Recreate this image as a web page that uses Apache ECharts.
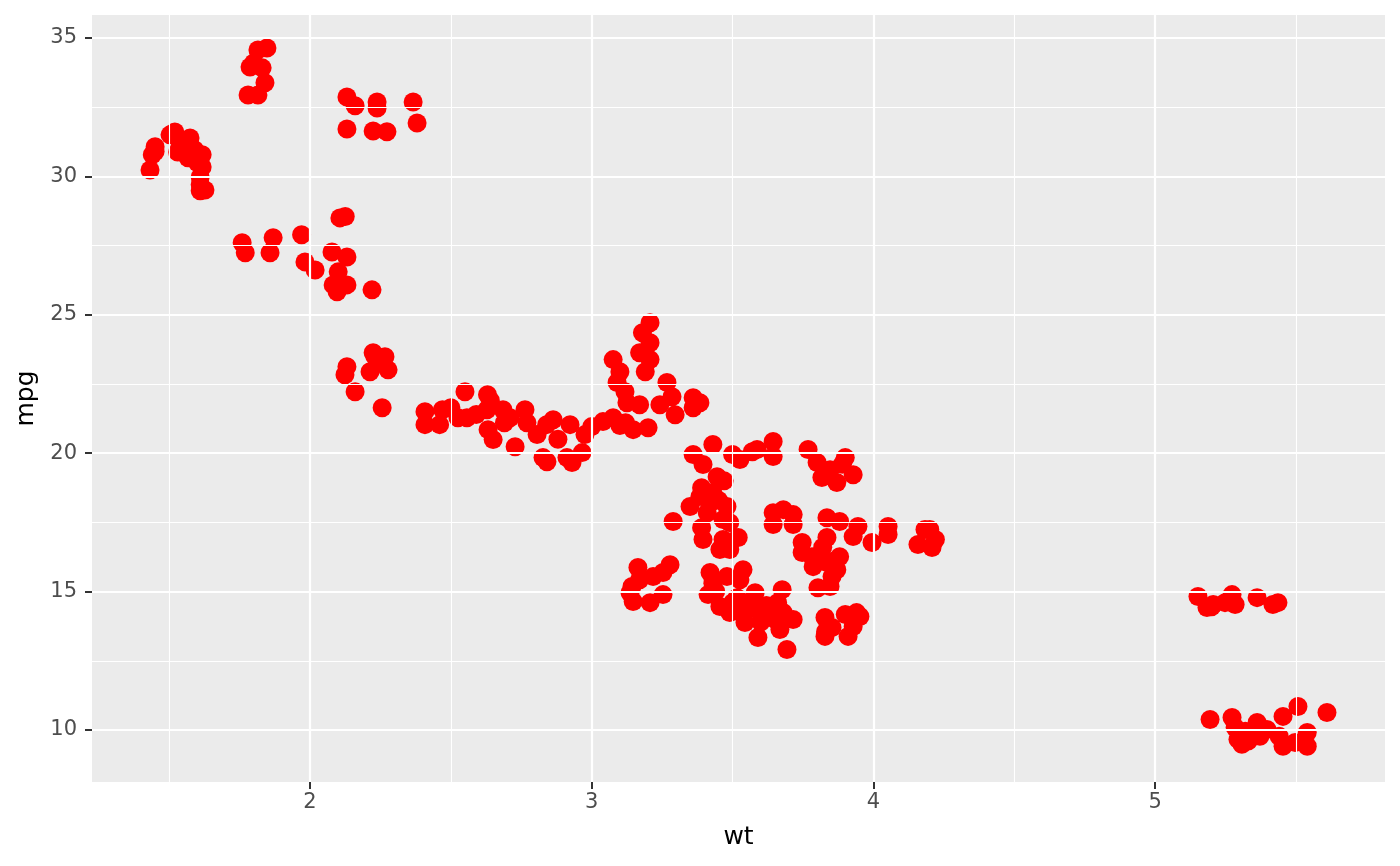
<!DOCTYPE html>
<html>
<head>
<meta charset="utf-8">
<script src="https://cdn.jsdelivr.net/npm/echarts@6/dist/echarts.min.js"></script>
<style>html,body{margin:0;padding:0;background:#fff}#c{width:1400px;height:866px}</style>
</head>
<body>
<div id="c"></div>
<script>
// wt values (x) and mpg values (y)
const wt = [
1.432,1.44,1.45,1.503,1.52,1.53,1.567,1.574,1.59,1.617,1.617,1.61,1.61,1.61,1.627,1.54,1.45,1.6,
1.847,1.815,1.787,1.80,1.83,1.84,1.78,1.815,
2.131,2.16,2.238,2.238,2.366,2.131,2.224,2.273,2.38,
1.759,1.77,1.869,1.858,1.97,1.982,2.018,2.078,2.131,2.1,2.082,2.096,2.131,2.22,2.106,2.125,
2.131,2.124,2.16,2.224,2.266,2.213,2.277,2.256,2.23,2.25,
2.408,2.408,2.46,2.47,2.50,2.525,2.557,2.55,2.63,2.628,2.632,2.65,2.685,2.71,2.728,2.763,2.77,2.806,2.841,2.827,2.863,2.84,2.923,2.912,2.93,2.966,2.976,3.0,3.04,3.076,2.64,2.69,2.59,2.88,
3.207,3.18,3.207,3.17,3.207,3.19,3.076,3.10,3.09,3.118,3.125,3.17,3.267,3.285,3.242,3.296,3.2,3.147,3.36,3.36,3.384,3.12,3.1,
3.43,3.36,3.395,3.445,3.455,3.39,3.349,3.384,3.43,3.48,3.41,3.466,3.49,3.39,3.395,3.466,3.52,3.455,3.49,3.289,3.5,3.526,3.57,3.587,3.644,3.644,3.42,3.45,3.47,
3.164,3.278,3.253,3.218,3.143,3.136,3.147,3.207,3.253,3.17,
3.42,3.413,3.455,3.49,3.537,3.526,3.48,3.516,3.544,3.58,3.587,3.59,3.633,3.676,3.68,3.693,3.668,3.715,3.43,3.5,3.55,3.62,3.65,3.6,3.66,3.44,3.535,
3.768,3.8,3.817,3.87,3.846,3.9,3.928,3.89,3.644,3.644,3.68,3.715,3.715,3.835,3.88,3.835,3.945,3.928,3.995,4.052,4.052,3.747,3.747,3.782,3.786,3.803,3.846,3.853,3.88,3.87,3.835,4.183,4.2,4.158,4.208,4.22,3.82,3.86,
3.828,3.828,3.853,3.9,3.94,3.91,3.928,3.952,3.83,
5.152,5.184,5.206,5.248,5.273,5.284,5.362,5.418,5.436,5.2,
5.195,5.273,5.284,5.294,5.308,5.362,5.344,5.397,5.372,5.454,5.507,5.44,5.454,5.497,5.54,5.54,5.61,5.32,5.33
];
const mpg = [
30.23,30.78,31.07,31.5,31.6,30.88,30.67,31.39,30.96,30.78,30.34,29.98,29.7,29.48,29.51,31.14,30.9,30.5,
34.64,34.57,33.95,34.1,33.92,33.38,32.94,32.94,
32.87,32.55,32.69,32.47,32.69,31.71,31.64,31.61,31.93,
27.6,27.24,27.78,27.24,27.89,26.91,26.62,27.27,27.09,26.55,26.08,25.83,26.08,25.9,28.5,28.55,
23.12,22.83,22.22,23.63,23.48,22.94,23.01,21.64,23.5,23.3,
21.5,21.03,21.03,21.57,21.64,21.28,21.28,22.22,22.11,21.57,20.85,20.49,21.57,21.28,20.23,21.57,21.1,20.67,19.69,19.84,21.21,21.03,21.03,19.84,19.66,20.02,20.67,20.96,21.14,21.28,21.9,21.1,21.4,20.5,
24.71,24.35,23.99,23.63,23.38,22.94,23.38,22.94,22.55,22.22,21.82,21.75,22.55,22.04,21.75,21.39,20.92,20.85,22.0,21.64,21.82,21.1,21.0,
20.31,19.95,19.59,19.15,19.04,18.75,18.07,18.43,18.57,18.07,17.85,17.6,17.49,17.31,16.88,16.88,16.95,16.52,16.52,17.53,19.95,19.77,20.05,20.13,20.42,19.88,18.2,18.3,19.0,
15.87,15.97,15.69,15.54,15.18,14.96,14.64,14.6,14.89,15.43,
15.69,14.89,14.46,14.24,15.79,15.43,15.54,14.78,13.88,14.96,14.35,13.34,14.24,15.07,14.24,12.91,13.63,13.99,15.3,14.6,14.6,14.5,14.0,13.9,14.6,15.0,14.2,
20.13,19.66,19.12,18.94,19.4,19.84,19.22,19.6,17.85,17.42,17.96,17.78,17.42,17.67,17.53,16.95,17.35,16.99,16.77,17.35,17.06,16.77,16.41,16.26,15.9,15.14,15.18,15.54,16.26,15.79,16.05,17.24,17.24,16.7,16.59,16.88,16.6,16.1,
14.06,13.38,13.7,14.17,14.24,13.38,13.74,14.1,13.55,
14.82,14.42,14.53,14.6,14.89,14.53,14.78,14.53,14.6,14.45,
10.38,10.45,10.09,9.66,9.48,10.27,9.84,10.02,9.77,10.49,10.85,9.77,9.41,9.55,9.91,9.41,10.63,9.95,9.6
];
const xMajor = [2, 3, 4, 5];
const xMinor = [1.5, 2.5, 3.5, 4.5, 5.5];
const yMajor = [10, 15, 20, 25, 30, 35];
const yMinor = [12.5, 17.5, 22.5, 27.5, 32.5];
const xRange = [1.226, 5.816];
const yRange = [8.12, 35.83];

const points = wt.map((w, i) => [w, mpg[i]]);
const gridLines = []
  .concat(xMinor.map(v => ({ xAxis: v, lineStyle: { width: 1.1 } })))
  .concat(yMinor.map(v => ({ yAxis: v, lineStyle: { width: 1.1 } })))
  .concat(xMajor.map(v => ({ xAxis: v, lineStyle: { width: 2.2 } })))
  .concat(yMajor.map(v => ({ yAxis: v, lineStyle: { width: 2.2 } })));

const font = 'DejaVu Sans';
const chart = echarts.init(document.getElementById('c'), null, { renderer: 'canvas' });
chart.setOption({
  animation: false,
  backgroundColor: '#ffffff',
  grid: { left: 92, right: 15, top: 15, bottom: 84, show: true, backgroundColor: '#EBEBEB', borderWidth: 0, containLabel: false },
  xAxis: {
    type: 'value', min: xRange[0], max: xRange[1],
    name: 'wt', nameLocation: 'middle', nameGap: 43,
    nameTextStyle: { color: '#000', fontSize: 25, fontFamily: font },
    axisLine: { show: true, lineStyle: { color: 'rgba(0,0,0,0)', width: 0 } },
    axisTick: { show: true, length: 7, lineStyle: { color: '#333333', width: 2 }, customValues: xMajor },
    axisLabel: { color: '#4D4D4D', fontSize: 21, fontFamily: font, margin: 10, customValues: xMajor },
    splitLine: { show: false }
  },
  yAxis: {
    type: 'value', min: yRange[0], max: yRange[1],
    name: 'mpg', nameLocation: 'middle', nameGap: 51, nameRotate: 90,
    nameTextStyle: { color: '#000', fontSize: 25, fontFamily: font },
    axisLine: { show: true, lineStyle: { color: 'rgba(0,0,0,0)', width: 0 } },
    axisTick: { show: true, length: 7, lineStyle: { color: '#333333', width: 2 }, customValues: yMajor },
    axisLabel: { color: '#4D4D4D', fontSize: 21, fontFamily: font, margin: 15, customValues: yMajor },
    splitLine: { show: false }
  },
  series: [
    {
      type: 'scatter', data: [], z: 1, silent: true,
      markLine: {
        silent: true, symbol: ['none', 'none'], animation: false,
        label: { show: false },
        lineStyle: { color: '#FFFFFF', type: 'solid' },
        emphasis: { disabled: true },
        data: gridLines
      }
    },
    {
      type: 'scatter', data: points, z: 3,
      symbol: 'circle', symbolSize: 19,
      itemStyle: { color: '#FF0000', opacity: 1 }
    }
  ]
});
</script>
</body>
</html>
